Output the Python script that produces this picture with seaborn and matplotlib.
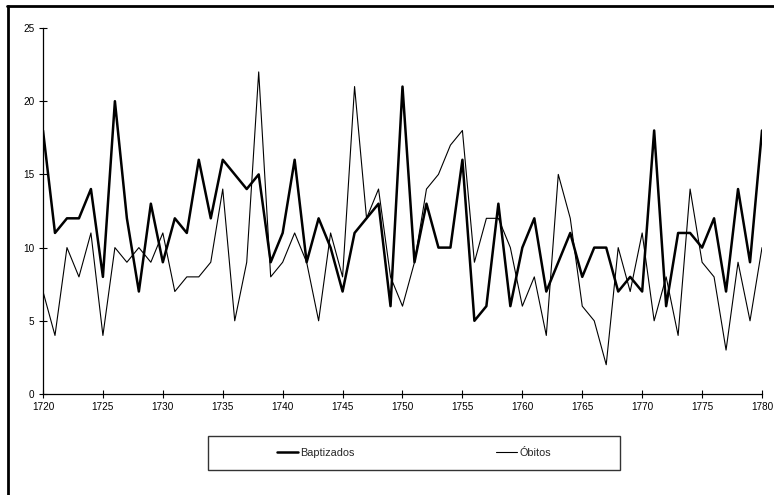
import matplotlib
matplotlib.use("Agg")
import matplotlib.pyplot as plt
from matplotlib.lines import Line2D
from matplotlib.patches import Rectangle
import seaborn as sns
import pandas as pd

years = list(range(1720, 1781))

baptizados = [18, 11, 12, 12, 14, 8, 20, 12, 7, 13,
              9, 12, 11, 16, 12, 16, 15, 14, 15, 9,
              11, 16, 9, 12, 10, 7, 11, 12, 13, 6,
              21, 9, 13, 10, 10, 16, 5, 6, 13, 6,
              10, 12, 7, 9, 11, 8, 10, 10, 7, 8,
              7, 18, 6, 11, 11, 10, 12, 7, 14, 9,
              18]

obitos = [7, 4, 10, 8, 11, 4, 10, 9, 10, 9,
          11, 7, 8, 8, 9, 14, 5, 9, 22, 8,
          9, 11, 9, 5, 11, 8, 21, 12, 14, 8,
          6, 9, 14, 15, 17, 18, 9, 12, 12, 10,
          6, 8, 4, 15, 12, 6, 5, 2, 10, 7,
          11, 5, 8, 4, 14, 9, 8, 3, 9, 5,
          10]

series_names = ["Baptizados", "Óbitos"]
x_ticks = list(range(1720, 1781, 5))
y_ticks = [0, 5, 10, 15, 20, 25]

sns.set_theme(style="white")
plt.rcParams["font.family"] = ["Liberation Sans", "DejaVu Sans"]

W, H = 774, 495
fig = plt.figure(figsize=(W / 100, H / 100), dpi=100)
ax = fig.add_axes([43 / W, (H - 394) / H, (762 - 43) / W, (394 - 28) / H])

df = pd.DataFrame({"ano": years, series_names[0]: baptizados, series_names[1]: obitos})

sns.lineplot(data=df, x="ano", y=series_names[0], ax=ax, color="black",
             linewidth=1.8, label=series_names[0])
sns.lineplot(data=df, x="ano", y=series_names[1], ax=ax, color="black",
             linewidth=0.8, label=series_names[1])

ax.set_xlim(1720, 1780)
ax.set_ylim(0, 25)
ax.set_xticks(x_ticks)
ax.set_yticks(y_ticks)
ax.set_xlabel("")
ax.set_ylabel("")
ax.tick_params(axis="both", which="major", direction="inout", length=6, width=0.8,
               colors="black", labelsize=7.2, pad=3, left=True, bottom=True)
for side in ("top", "right"):
    ax.spines[side].set_visible(False)
for side in ("left", "bottom"):
    ax.spines[side].set_color("black")
    ax.spines[side].set_linewidth(0.9)

# legend below the plot, inside its own box
handles, labels = ax.get_legend_handles_labels()
ax.get_legend().remove()
lx0, lx1, ly0, ly1 = 208, 620, 436, 470
fig.add_artist(Rectangle((lx0 / W, 1 - ly1 / H), (lx1 - lx0) / W, (ly1 - ly0) / H,
                         transform=fig.transFigure, fill=False,
                         edgecolor="#333333", linewidth=1.0))
fig.legend(handles, labels, loc="center", ncol=2,
           bbox_to_anchor=((lx0 + lx1) / 2 / W, 1 - (ly0 + ly1) / 2 / H),
           frameon=False, fontsize=7.8, handlelength=2.0, handletextpad=0.2,
           columnspacing=13.0)

# frame lines along the top and left edges of the figure
fig.add_artist(Line2D([7 / W, 1], [1 - 6 / H, 1 - 6 / H], transform=fig.transFigure,
                      color="black", linewidth=2.0))
fig.add_artist(Line2D([8 / W, 8 / W], [0, 1 - 6 / H], transform=fig.transFigure,
                      color="black", linewidth=2.0))

fig.savefig("out.png", dpi=100, facecolor="white")
